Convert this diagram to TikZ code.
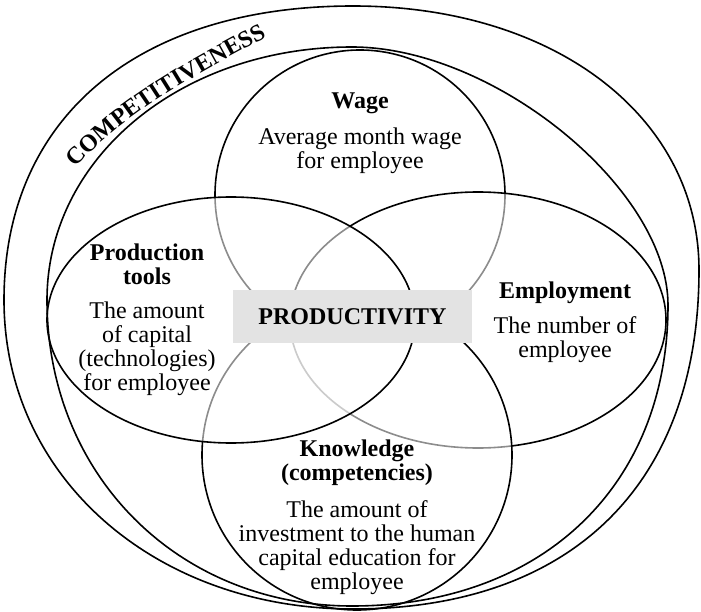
\documentclass[tikz,border=0pt]{standalone}
\usepackage{fontspec}
\setmainfont{Liberation Serif}
\usetikzlibrary{shapes.geometric, decorations.text}
\definecolor{cBox}{HTML}{E3E3E3}

\begin{document}
\begin{tikzpicture}[x=1pt, y=-1pt,
  every node/.style={font=\fontsize{24}{24}\selectfont},
  venn/.style={draw, line width=1.6pt, fill=white, fill opacity=0.55, inner sep=0pt},
  rim/.style={draw, line width=1.6pt},
  lbl/.style={align=center, inner sep=0pt}
]
\useasboundingbox (0,0) rectangle (701,612);
\node[venn, circle, minimum size=290pt] (wage) at (360,195) {};
\node[venn, ellipse, minimum width=376pt, minimum height=256pt] (empl) at (478,320) {};
\node[venn, circle, minimum size=310pt] (know) at (357,455) {};
\node[venn, ellipse, minimum width=368pt, minimum height=246pt] (prod) at (231,320) {};

\draw[rim] (353,6) .. controls (555,6) and (699,117) .. (699,270)
  .. controls (699,484) and (572,609) .. (353,609)
  .. controls (155,609) and (4,477) .. (4,300)
  .. controls (4,118) and (137,6) .. cycle;
\draw[rim] (352,47) .. controls (494,47) and (668,189) .. (668,305)
  .. controls (668,486) and (542,606) .. (352,606)
  .. controls (178,606) and (47,475) .. (47,300)
  .. controls (47,158) and (181,47) .. cycle;

\path[decorate, decoration={text along path, text align=center,
  text={|\fontsize{24}{24}\selectfont\bfseries|COMPETITIVENESS}}]
  (70,174) .. controls (121,113) and (203,71) .. (274,33);

\node[fill=cBox, minimum width=239pt, minimum height=53pt, inner sep=0pt, font=\fontsize{24}{24}\selectfont\bfseries] (prodty) at (352.5,316.5) {PRODUCTIVITY};

\node[lbl] (wagetxt) at (360,133.4) {\textbf{Wage}\\[12pt]Average month wage\\for employee};
\node[lbl] (prodtxt) at (147,319.4) {\textbf{Production}\\\textbf{tools}\\[10pt]The amount\\of capital\\(technologies)\\for employee};
\node[lbl] (empltxt) at (565,322) {\textbf{Employment}\\[11pt]The number of\\employee};
\node[lbl] (knowtxt) at (357,517.4) {\textbf{Knowledge}\\\textbf{(competencies)}\\[13pt]The amount of\\investment to the human\\capital education for\\employee};
\end{tikzpicture}
\end{document}
